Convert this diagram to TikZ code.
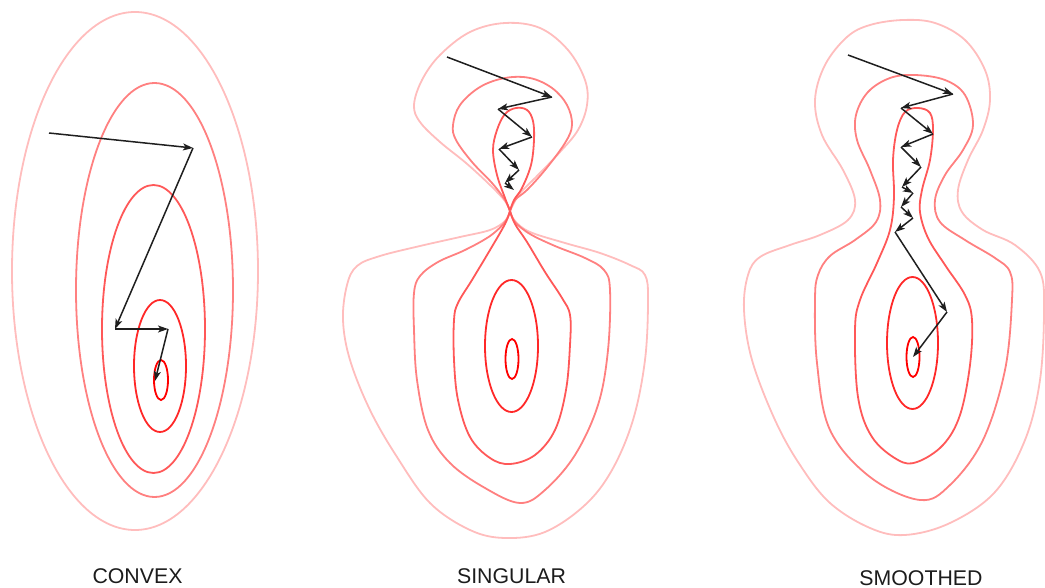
\documentclass[tikz,border=0pt]{standalone}
\usepackage{fontspec}
\newfontfamily\labelfont{Liberation Sans}
\usetikzlibrary{arrows.meta}
\definecolor{lvlA}{HTML}{FFBDBD}
\definecolor{lvlB}{HTML}{FF8080}
\definecolor{lvlC}{HTML}{FF5858}
\definecolor{lvlD}{HTML}{FF2828}
\definecolor{lvlE}{HTML}{FF0000}
\definecolor{labelgray}{HTML}{1C1C1C}
\begin{document}
\begin{tikzpicture}[x=1pt,y=-1pt,
  contour/.style={line width=1.8pt},
  gdstep/.style={line width=1.5pt, draw=black!88,
    -{Stealth[length=10pt,width=7pt,inset=2.5pt]}},
  panellabel/.style={anchor=base, text=labelgray,
    font=\labelfont\fontsize{21.3}{24}\selectfont}]
\useasboundingbox (0,0) rectangle (1045,588);

% ---------------- convex: nested ellipses ----------------
\draw[contour, lvlA] (135,271) ellipse [x radius=123, y radius=259];
\draw[contour, lvlB] (154.5,290) ellipse [x radius=78.5, y radius=207];
\draw[contour, lvlC] (153.5,329) ellipse [x radius=51.5, y radius=144];
\draw[contour, lvlD] (160,366) ellipse [x radius=26, y radius=66];
\draw[contour, lvlE] (161,380) ellipse [x radius=7, y radius=20];

\coordinate (cv0) at (49,133);
\coordinate (cv1) at (193,148);
\coordinate (cv2) at (115,329);
\coordinate (cv3) at (168,329);
\coordinate (cv4) at (155,381);
\draw[gdstep] (cv0) -- (cv1);
\draw[gdstep] (cv1) -- (cv2);
\draw[gdstep] (cv2) -- (cv3);
\draw[gdstep] (cv3) -- (cv4);

% ---------------- singular: lobes pinched at one point ----------------
\coordinate (pinch) at (510,211);
% upper lobes
\draw[contour, lvlA] plot[smooth, tension=0.6] coordinates {(510,211) (505,201) (490,185) (466,163) (440,142) (420,122) (414,105) (422,80) (440,55) (470,32) (505,23) (540,28) (568,50) (585,80) (587,105) (578,130) (560,152) (538,175) (520,193) (515,201) (510,211)};
\draw[contour, lvlB] plot[smooth, tension=0.6] coordinates {(510,211) (505,200) (492,183) (472,162) (456,140) (453,125) (460,105) (480,87) (505,78) (530,78) (552,88) (567,105) (572,125) (565,143) (545,170) (527,190) (515,200) (510,211)};
\draw[contour, lvlC] plot[smooth, tension=0.6] coordinates {(510,211) (505,198) (497,175) (493,150) (497,130) (505,114) (516,108) (527,110) (533,121) (534,140) (531,165) (522,188) (514,200) (510,211)};
% lower lobes
\draw[contour, lvlA] plot[smooth, tension=0.6] coordinates {(510,211) (505,221) (490,230) (460,237) (420,246) (380,256) (357,266) (347,285) (343,320) (350,360) (370,410) (397,457) (430,503) (470,530) (505,538) (545,532) (585,505) (612,470) (633,420) (645,360) (648,300) (645,275) (630,265) (600,253) (565,243) (530,232) (515,221) (510,211)};
\draw[contour, lvlB] plot[smooth, tension=0.6] coordinates {(510,211) (505,222) (490,236) (465,250) (438,262) (420,276) (414,293) (414,330) (417,380) (428,430) (450,463) (485,488) (520,503) (545,490) (575,455) (598,405) (608,350) (610,290) (604,270) (585,258) (555,246) (530,234) (515,222) (510,211)};
\draw[contour, lvlC] plot[smooth, tension=0.6] coordinates {(510,211) (505,224) (490,250) (472,280) (458,303) (454,320) (454,360) (458,400) (470,437) (490,458) (510,464) (535,455) (555,430) (566,390) (570,345) (570,315) (562,298) (545,272) (527,242) (515,224) (510,211)};
\draw[contour, lvlD] (511.5,346) ellipse [x radius=26.5, y radius=66];
\draw[contour, lvlE] (512,359) ellipse [x radius=6.5, y radius=20];

\coordinate (sg0) at (447,57);
\coordinate (sg1) at (552,97);
\coordinate (sg2) at (498,109);
\coordinate (sg3) at (532,137);
\coordinate (sg4) at (499,149);
\coordinate (sg5) at (519,170);
\coordinate (sg6) at (505,183);
\coordinate (sg7) at (514,190);
\draw[gdstep] (sg0) -- (sg1);
\draw[gdstep] (sg1) -- (sg2);
\draw[gdstep] (sg2) -- (sg3);
\draw[gdstep] (sg3) -- (sg4);
\draw[gdstep] (sg4) -- (sg5);
\draw[gdstep] (sg5) -- (sg6);
\draw[gdstep] (sg6) -- (sg7);

% ---------------- smoothed: closed curves with a neck ----------------
\draw[contour, lvlA] plot[smooth cycle, tension=0.6] coordinates {(903,20) (870,25) (847,37) (825,65) (815,100) (822,135) (843,170) (855,200) (848,220) (820,235) (790,245) (760,257) (748,275) (744,310) (752,360) (775,420) (800,465) (830,503) (870,528) (905,535) (950,523) (995,492) (1025,440) (1040,380) (1044,310) (1040,272) (1015,245) (983,230) (962,212) (958,190) (968,160) (983,130) (990,100) (985,70) (965,40) (935,23)};
\draw[contour, lvlB] plot[smooth cycle, tension=0.6] coordinates {(915,75) (890,78) (868,92) (856,115) (857,140) (870,170) (880,200) (876,222) (855,240) (830,256) (818,275) (815,300) (817,363) (830,430) (870,477) (920,500) (950,485) (983,440) (1005,370) (1012,300) (1010,272) (995,258) (965,240) (940,222) (935,200) (945,175) (963,150) (973,125) (965,95) (945,80)};
\draw[contour, lvlC] plot[smooth cycle, tension=0.6] coordinates {(918,108) (905,112) (897,130) (893,160) (894,197) (890,230) (877,263) (860,300) (855,330) (858,397) (872,437) (898,460) (917,462) (943,445) (960,415) (970,365) (972,320) (965,295) (945,265) (928,238) (920,212) (922,190) (930,160) (933,130) (930,113)};
\draw[contour, lvlD] (912.5,343) ellipse [x radius=25.5, y radius=66];
\draw[contour, lvlE] (913,357) ellipse [x radius=6.5, y radius=20];

\coordinate (sm0) at (848,55);
\coordinate (sm1) at (953,94);
\coordinate (sm2) at (901,108);
\coordinate (sm3) at (933,134);
\coordinate (sm4) at (901,147);
\coordinate (sm5) at (921,167);
\coordinate (sm6) at (902,187);
\coordinate (sm7) at (913,193);
\coordinate (sm8) at (901,207);
\coordinate (sm9) at (913,218);
\coordinate (sm10) at (895,232);
\coordinate (sm11) at (947,312);
\coordinate (sm12) at (913,357);
\foreach \a/\b in {sm0/sm1, sm1/sm2, sm2/sm3, sm3/sm4, sm4/sm5, sm5/sm6,
                   sm6/sm7, sm7/sm8, sm8/sm9, sm9/sm10, sm10/sm11, sm11/sm12}
  \draw[gdstep] (\a) -- (\b);

% ---------------- labels ----------------
\node[panellabel] (lconvex) at (137.5,583) {CONVEX};
\node[panellabel] (lsingular) at (511.5,583) {SINGULAR};
\node[panellabel] (lsmoothed) at (921,585) {SMOOTHED};
\end{tikzpicture}
\end{document}
